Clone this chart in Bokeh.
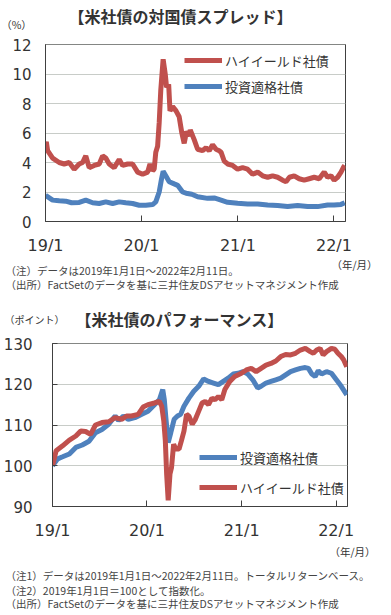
import pandas as pd
from bokeh.plotting import figure
from bokeh.models import (Range1d, FixedTicker, Label, Legend, LegendItem)
from bokeh.layouts import column
from bokeh.embed import file_html
from bokeh.resources import INLINE

# ---------------- data ----------------
# Chart 1: spread over treasuries (%)
spread_hy_dates = [
    "2019-01-01", "2019-01-04", "2019-01-09", "2019-01-28", "2019-02-22", "2019-03-13",
    "2019-04-01", "2019-04-20", "2019-05-09", "2019-05-22", "2019-06-03", "2019-06-16",
    "2019-07-05", "2019-07-24", "2019-08-06", "2019-08-18", "2019-08-31", "2019-09-19",
    "2019-10-08", "2019-10-21", "2019-11-09", "2019-11-28", "2019-12-17", "2020-01-05",
    "2020-01-24", "2020-02-02", "2020-02-12", "2020-02-18", "2020-02-24", "2020-03-02",
    "2020-03-08", "2020-03-14", "2020-03-23", "2020-03-31", "2020-04-05", "2020-04-13",
    "2020-04-18", "2020-04-28", "2020-05-11", "2020-05-23", "2020-06-02", "2020-06-11",
    "2020-06-20", "2020-06-30", "2020-07-04", "2020-07-19", "2020-08-01", "2020-08-20",
    "2020-09-02", "2020-09-14", "2020-09-27", "2020-10-10", "2020-10-22", "2020-10-29",
    "2020-11-10", "2020-11-23", "2020-12-12", "2020-12-31", "2021-01-19", "2021-02-07",
    "2021-02-26", "2021-03-17", "2021-04-05", "2021-04-24", "2021-05-13", "2021-06-01",
    "2021-06-20", "2021-07-03", "2021-07-16", "2021-08-03", "2021-08-22", "2021-09-10",
    "2021-09-29", "2021-10-18", "2021-11-06", "2021-11-25", "2021-12-08", "2021-12-21",
    "2022-01-02", "2022-01-15", "2022-01-28", "2022-02-07", "2022-02-11",
]
spread_hy = [
    5.2, 5.4, 4.8, 4.3, 4.0, 3.9,
    4.0, 3.55, 3.9, 4.0, 4.45, 3.65,
    3.8, 3.9, 4.45, 4.3, 3.9, 3.65,
    4.2, 3.8, 3.9, 3.9, 3.35, 3.2,
    3.35, 3.9, 3.45, 3.55, 4.7, 5.1,
    6.7, 8.9, 11.0, 10.0, 9.1, 9.3,
    7.5, 7.8, 7.5, 7.1, 6.0, 5.3,
    6.1, 5.8, 6.2, 5.55, 4.9, 4.8,
    5.0, 4.8, 5.2, 4.9, 4.8, 4.7,
    4.1, 3.9, 3.8, 3.55, 3.65, 3.55,
    3.2, 3.35, 3.1, 3.0, 3.1, 3.0,
    2.8, 2.7, 3.0, 3.1, 2.9, 2.8,
    2.9, 3.0, 2.9, 3.35, 3.0, 3.1,
    2.8, 3.0, 3.35, 3.7, 3.8,
]
spread_ig_dates = [
    "2019-01-01", "2019-01-28", "2019-02-22", "2019-03-19", "2019-04-10", "2019-05-09",
    "2019-06-03", "2019-06-29", "2019-07-24", "2019-08-18", "2019-09-13", "2019-10-08",
    "2019-11-02", "2019-11-28", "2019-12-23", "2020-01-17", "2020-02-12", "2020-02-24",
    "2020-03-08", "2020-03-17", "2020-03-23", "2020-04-02", "2020-04-15", "2020-05-04",
    "2020-05-17", "2020-06-05", "2020-06-18", "2020-07-10", "2020-08-01", "2020-09-08",
    "2020-10-03", "2020-10-29", "2020-11-23", "2020-12-31", "2021-02-07", "2021-03-17",
    "2021-04-24", "2021-06-01", "2021-07-09", "2021-08-16", "2021-09-23", "2021-10-31",
    "2021-12-08", "2022-01-02", "2022-01-28", "2022-02-11",
]
spread_ig = [
    1.78, 1.45, 1.4, 1.38, 1.27, 1.29,
    1.45, 1.27, 1.22, 1.33, 1.22, 1.33,
    1.27, 1.22, 1.1, 1.1, 1.15, 1.33,
    2.0, 2.9, 3.4, 3.1, 2.7, 2.55,
    2.45, 2.0, 1.92, 1.85, 1.68, 1.57,
    1.6, 1.45, 1.3, 1.23, 1.19, 1.19,
    1.12, 1.08, 1.01, 1.08, 1.01, 1.01,
    1.12, 1.12, 1.16, 1.27,
]

# Chart 2: total return index (2019/1/1 = 100)
perf_ig_dates = [
    "2019-01-01", "2019-01-21", "2019-02-09", "2019-03-07", "2019-04-01", "2019-04-26",
    "2019-05-22", "2019-06-16", "2019-07-11", "2019-08-06", "2019-08-31", "2019-09-13",
    "2019-10-02", "2019-10-21", "2019-11-15", "2019-12-10", "2020-01-05", "2020-01-30",
    "2020-02-18", "2020-03-02", "2020-03-08", "2020-03-14", "2020-03-23", "2020-04-02",
    "2020-04-15", "2020-04-28", "2020-05-10", "2020-05-23", "2020-06-11", "2020-06-30",
    "2020-07-19", "2020-08-07", "2020-08-26", "2020-09-14", "2020-10-03", "2020-10-22",
    "2020-11-10", "2020-11-29", "2020-12-18", "2021-01-06", "2021-01-25", "2021-02-13",
    "2021-03-04", "2021-03-17", "2021-04-05", "2021-04-24", "2021-05-13", "2021-06-01",
    "2021-06-20", "2021-07-09", "2021-07-28", "2021-08-16", "2021-09-04", "2021-09-16",
    "2021-09-29", "2021-10-12", "2021-10-24", "2021-11-06", "2021-11-25", "2021-12-14",
    "2022-01-02", "2022-01-21", "2022-02-11",
]
perf_ig = [
    100.0, 101.7, 102.2, 102.9, 104.5, 105.1,
    106.0, 108.1, 108.9, 110.2, 112.2, 111.1,
    112.2, 111.4, 111.8, 112.6, 113.4, 115.0,
    116.2, 118.7, 116.2, 111.8, 105.7, 108.1,
    111.4, 112.2, 112.6, 114.6, 116.6, 118.3,
    119.5, 121.3, 120.7, 120.3, 119.9, 120.7,
    121.5, 122.5, 122.7, 123.1, 122.5, 121.1,
    119.1, 119.5, 120.3, 120.7, 121.1, 121.5,
    122.3, 123.1, 123.5, 123.9, 124.1, 123.9,
    122.5, 121.9, 123.3, 122.5, 123.1, 122.7,
    121.1, 119.5, 117.4,
]
perf_hy_dates = [
    "2019-01-01", "2019-01-15", "2019-02-09", "2019-03-07", "2019-04-01", "2019-04-20",
    "2019-05-09", "2019-05-28", "2019-06-16", "2019-07-11", "2019-08-06", "2019-08-31",
    "2019-09-25", "2019-10-14", "2019-11-02", "2019-11-28", "2019-12-17", "2020-01-05",
    "2020-01-30", "2020-02-18", "2020-02-27", "2020-03-06", "2020-03-12", "2020-03-17",
    "2020-03-23", "2020-03-30", "2020-04-05", "2020-04-13", "2020-04-21", "2020-05-04",
    "2020-05-13", "2020-05-23", "2020-06-02", "2020-06-11", "2020-06-24", "2020-07-06",
    "2020-07-19", "2020-08-01", "2020-08-13", "2020-08-26", "2020-09-08", "2020-09-20",
    "2020-10-03", "2020-10-16", "2020-10-28", "2020-11-16", "2020-12-05", "2020-12-31",
    "2021-01-19", "2021-02-07", "2021-02-26", "2021-03-17", "2021-04-05", "2021-04-24",
    "2021-05-13", "2021-06-01", "2021-06-20", "2021-07-09", "2021-07-28", "2021-08-16",
    "2021-09-04", "2021-09-23", "2021-10-05", "2021-10-18", "2021-10-31", "2021-11-12",
    "2021-11-25", "2021-12-14", "2021-12-27", "2022-01-08", "2022-01-21", "2022-01-30",
    "2022-02-11",
]
perf_hy = [
    100.0, 103.7, 104.9, 106.3, 107.3, 108.5,
    108.4, 107.7, 110.0, 110.6, 110.8, 111.8,
    111.4, 112.2, 112.2, 112.6, 114.4, 115.0,
    115.4, 115.8, 114.6, 111.0, 106.1, 98.0,
    91.5, 98.0, 99.6, 105.3, 104.1, 104.1,
    106.1, 108.5, 112.6, 112.2, 110.2, 111.4,
    113.4, 115.4, 115.8, 115.0, 116.6, 116.2,
    117.0, 116.2, 118.7, 120.7, 121.9, 122.7,
    123.5, 123.9, 123.1, 123.9, 124.7, 125.1,
    125.7, 126.8, 127.3, 127.2, 127.6, 128.4,
    128.8, 128.0, 127.6, 128.4, 128.8, 127.2,
    128.0, 128.8, 128.6, 127.6, 126.8, 126.0,
    124.3,
]

tick_dates = ["2019-01-01", "2020-01-01", "2021-01-01", "2022-01-01"]
tick_labels = ["19/1", "20/1", "21/1", "22/1"]
spread_ticks = [0, 2, 4, 6, 8, 10, 12]
perf_ticks = [90, 100, 110, 120, 130]

RED = "#C0504D"
BLUE = "#4F81BD"
TXT = "#333333"
NOTE = "#444444"
JP = "Noto Sans CJK JP"
NUM = "DejaVu Sans"
W = 380


def to_dt(lst):
    return pd.to_datetime(lst)


tick_ms = [pd.Timestamp(d).value / 1e6 for d in tick_dates]
x_start = pd.Timestamp("2019-01-01") - pd.Timedelta(hours=2)
x_end = pd.Timestamp("2022-02-14")


def chart_fig(height, left, top, bottom, frame_w, yr, yticks, ytick_in, ystand):
    p = figure(width=W, height=height, x_axis_type="datetime",
               output_backend="svg", toolbar_location=None,
               x_range=Range1d(x_start, x_end), y_range=yr,
               min_border_left=left, min_border_top=top,
               min_border_bottom=bottom, min_border_right=W - left - frame_w,
               frame_align=False)
    p.background_fill_color = "white"
    p.border_fill_color = "white"
    p.outline_line_color = "#404040"
    p.outline_line_width = 1
    p.xgrid.grid_line_color = None
    p.ygrid.grid_line_color = "#C8CCC8"
    p.ygrid.grid_line_width = 1
    p.xaxis.ticker = FixedTicker(ticks=tick_ms)
    p.xaxis.major_label_overrides = {t: l for t, l in zip(tick_ms, tick_labels)}
    p.xaxis.major_tick_in = 6
    p.xaxis.major_tick_out = 0
    p.xaxis.minor_tick_line_color = None
    p.xaxis.axis_line_color = "#404040"
    p.xaxis.major_tick_line_color = "#404040"
    p.xaxis.major_label_text_font = NUM
    p.xaxis.major_label_text_font_size = "16px"
    p.xaxis.major_label_text_color = TXT
    p.xaxis.major_label_standoff = 14
    p.yaxis.ticker = FixedTicker(ticks=yticks)
    p.yaxis.major_tick_in = ytick_in
    p.yaxis.major_tick_out = 0
    p.yaxis.minor_tick_line_color = None
    p.yaxis.axis_line_color = "#404040"
    p.yaxis.major_tick_line_color = "#404040"
    p.yaxis.major_label_text_font = NUM
    p.yaxis.major_label_text_font_size = "15px"
    p.yaxis.major_label_text_color = TXT
    p.yaxis.major_label_standoff = ystand
    return p


def text_fig(height):
    p = figure(width=W, height=height, output_backend="svg", toolbar_location=None,
               x_range=Range1d(0, W), y_range=Range1d(0, height),
               x_axis_location=None, y_axis_location=None,
               min_border_left=0, min_border_right=0, min_border_top=0,
               min_border_bottom=0, frame_align=False)
    p.grid.visible = False
    p.outline_line_color = None
    p.background_fill_color = "white"
    p.border_fill_color = "white"
    return p


def add_label(p, x, y, text, size, bold=False, align="left", color=TXT):
    p.add_layout(Label(x=x, y=y, x_units="screen", y_units="screen", text=text,
                       text_font=JP, text_font_size=size,
                       text_font_style="bold" if bold else "normal",
                       text_color=color, text_align=align, text_baseline="middle"))


def make_legend(items, loc, spacing):
    return Legend(items=items, location=loc, glyph_width=38, glyph_height=20,
                  label_height=20, label_standoff=3, spacing=spacing, padding=0,
                  margin=0, border_line_color=None, background_fill_alpha=0,
                  label_text_font=JP, label_text_font_size="13px",
                  label_text_color=TXT)


# ---------------- header 1 ----------------
head1 = text_fig(32)
add_label(head1, 180, 17, "【米社債の対国債スプレッド】", "16px", bold=True, align="center")
add_label(head1, 16, 8, "（%）", "10.5px", align="center")

# ---------------- chart 1 ----------------
p1 = chart_fig(225, 45, 12, 34, 300, Range1d(0, 12.001), spread_ticks, 0, 14)
r_hy1 = p1.line(to_dt(spread_hy_dates), spread_hy, line_color=RED, line_width=5)
r_ig1 = p1.line(to_dt(spread_ig_dates), spread_ig, line_color=BLUE, line_width=5)
p1.add_layout(make_legend([LegendItem(label="ハイイールド社債", renderers=[r_hy1]),
                           LegendItem(label="投資適格社債", renderers=[r_ig1])],
                          (139, 125), 6))

# ---------------- middle text ----------------
mid = text_fig(77)
add_label(mid, 377, 70, "（年/月）", "10.5px", align="right")
add_label(mid, 5, 64, "（注）データは2019年1月1日～2022年2月11日。", "10.5px", color=NOTE)
add_label(mid, 5, 50, "（出所）FactSetのデータを基に三井住友DSアセットマネジメント作成", "10.5px",
          color=NOTE)
add_label(mid, 179, 16, "【米社債のパフォーマンス】", "16px", bold=True, align="center")
add_label(mid, 34, 15, "（ポイント）", "10px", align="center")

# ---------------- chart 2 ----------------
p2 = chart_fig(208, 48, 9, 34, 299, Range1d(90, 130.001), perf_ticks, 5, 20)
r_ig2 = p2.line(to_dt(perf_ig_dates), perf_ig, line_color=BLUE, line_width=5)
r_hy2 = p2.line(to_dt(perf_hy_dates), perf_hy, line_color=RED, line_width=5)
p2.add_layout(make_legend([LegendItem(label="投資適格社債", renderers=[r_ig2]),
                           LegendItem(label="ハイイールド社債", renderers=[r_hy2])],
                          (147, 9), 10))

# ---------------- footer text ----------------
foot = text_fig(71)
add_label(foot, 375, 62, "（年/月）", "10.5px", align="right")
add_label(foot, 5, 38, "（注1）データは2019年1月1日～2022年2月11日。トータルリターンベース。",
          "10.5px", color=NOTE)
add_label(foot, 5, 23, "（注2）2019年1月1日＝100として指数化。", "10.5px", color=NOTE)
add_label(foot, 5, 10, "（出所）FactSetのデータを基に三井住友DSアセットマネジメント作成", "10.5px",
          color=NOTE)

layout = column(head1, p1, mid, p2, foot, spacing=0)
open("out.html", "w").write(file_html(layout, INLINE))
